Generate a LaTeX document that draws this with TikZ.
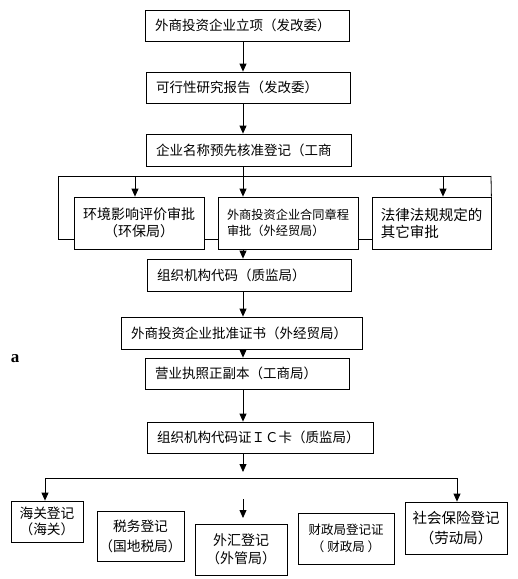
\documentclass[tikz,border=0pt]{standalone}
\usepackage{fontspec}
\newfontfamily\cjk{Noto Sans CJK SC}
\newfontfamily\lat{Liberation Serif}
\usepackage{xcolor}
\usetikzlibrary{positioning,arrows.meta}
\definecolor{ink}{HTML}{000000}

\begin{document}
\begin{tikzpicture}[x=1pt, y=-1pt,
  font=\cjk\fontsize{13.5}{17}\selectfont,
  box/.style={draw=ink, line width=0.8pt, inner xsep=10pt, inner ysep=0pt, align=left, fill=white},
  cbox/.style={box, inner xsep=2pt, align=center},
  arr/.style={-{Triangle[length=8pt, width=7pt]}, draw=ink, line width=0.8pt},
  lnk/.style={draw=ink, line width=0.8pt}]
\useasboundingbox (0,0) rectangle (518,579);
% main column
\node[box, minimum height=31pt, text width=184pt] (lixiang)  at (247,25.5)  {外商投资企业立项（发改委）};
\node[box, minimum height=31pt, text width=184pt] (kexing)   at (248,87.5)  {可行性研究报告（发改委）};
\node[box, minimum height=32pt, text width=185pt] (mingcheng) at (248.5,150) {企业名称预先核准登记（工商};
% approvals row
\node[cbox, minimum width=130pt, minimum height=52pt, font=\cjk\fontsize{14}{17}\selectfont] (huanping) at (139,223) {环境影响评价审批\\（环保局）};
\node[box, inner xsep=2pt, minimum width=140pt, minimum height=52pt, font=\cjk\fontsize{12.2}{15.5}\selectfont] (hetong) at (288,223) {外商投资企业合同章程\\审批（外经贸局）};
\node[box, inner xsep=2pt, minimum width=119pt, minimum height=52pt, font=\cjk\fontsize{14.5}{17}\selectfont] (qita) at (431.5,223) {法律法规规定的\\其它审批};
% rest of the column
\node[box, minimum height=32pt, text width=184pt] (daima)  at (249,275)   {组织机构代码（质监局）};
\node[box, minimum height=32pt, text width=221pt] (pizhun) at (241.5,333) {外商投资企业批准证书（外经贸局）};
\node[box, minimum height=31pt, text width=184pt] (yingye) at (247,373.5) {营业执照正副本（工商局）};
\node[box, minimum height=31pt, text width=206pt] (icka)   at (260,437.5) {组织机构代码证ＩＣ卡（质监局）};
\node[font=\lat\bfseries\fontsize{17}{17}\selectfont] (lbl) at (15,359) {a};
% registrations
\node[cbox, minimum width=72pt,  minimum height=41pt, font=\cjk\fontsize{13.7}{15.5}\selectfont] (haiguan) at (47,521.5)  {海关登记\\（海关）};
\node[cbox, minimum width=87pt,  minimum height=50pt, font=\cjk\fontsize{13.7}{20}\selectfont]   (shuiwu)  at (140.5,536) {税务登记\\（国地税局）};
\node[cbox, minimum width=92pt,  minimum height=51pt, font=\cjk\fontsize{14}{18.5}\selectfont]   (waihui)  at (241,549.5) {外汇登记\\（外管局）};
\node[cbox, minimum width=96pt,  minimum height=51pt, font=\cjk\fontsize{12.5}{17}\selectfont]   (caizheng) at (346,538.5) {财政局登记证\\（ 财政局 ）};
\node[cbox, minimum width=102pt, minimum height=52pt, font=\cjk\fontsize{14.5}{20}\selectfont]   (shebao)  at (456,528)   {社会保险登记\\（劳动局）};
% helper points
\coordinate (spine) at (243,0);
\coordinate (loopL) at (58,176);
\coordinate (loopR) at (491,176);
\coordinate (t1) at (135,176);
\coordinate (t3) at (443,176);
\coordinate (fork) at (243,472);
\coordinate (busL) at (45,478);
\coordinate (busR) at (457,478);
\coordinate (whA) at (243,499);
\coordinate (whB) at (243,518);
% arrows down the column
\draw[arr] (lixiang.south -| spine) -- (kexing.north -| spine);
\draw[arr] (kexing.south -| spine) -- (mingcheng.north -| spine);
\draw[arr] (mingcheng.south -| spine) -- (hetong.north -| spine);
\draw[arr] (hetong.south -| spine) -- (daima.north -| spine);
\draw[arr] (daima.south -| spine) -- (pizhun.north -| spine);
\draw[arr] (pizhun.south -| spine) -- (yingye.north -| spine);
\draw[arr] (yingye.south -| spine) -- (icka.north -| spine);
% frame round the approvals
\draw[lnk] (loopL) -- (loopR);
\draw[lnk] (loopL) |- ([yshift=10pt]huanping.south west);
\draw[lnk] (loopR) -- (qita.north east);
\draw[lnk] ([yshift=10pt]huanping.south east) -- ([yshift=10pt]hetong.south west);
\draw[lnk] ([yshift=10pt]hetong.south east) -- ([yshift=10pt]qita.south west);
\draw[arr] (t1) -- (t1 |- huanping.north);
\draw[arr] (t3) -- (t3 |- qita.north);
% fan out to the registrations
\draw[arr] (icka.south -| spine) -- (fork);
\draw[lnk] (busL) -- (busR);
\draw[arr] (busL) -- (busL |- haiguan.north);
\draw[arr] (busR) -- (busR |- shebao.north);
\draw[arr] (whA) -- (whB);
\end{tikzpicture}
\end{document}
